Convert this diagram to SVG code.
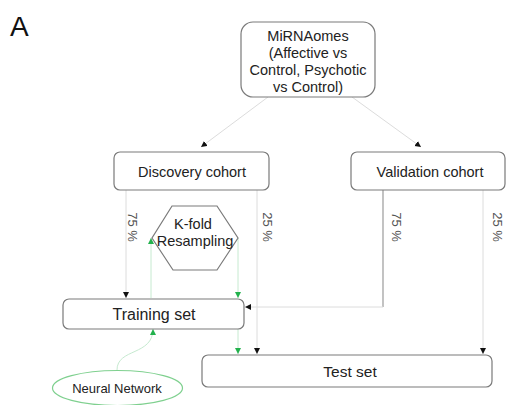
<svg xmlns="http://www.w3.org/2000/svg" width="506" height="405" viewBox="0 0 506 405">
<style>
.box{fill:#fff;stroke:#7a7a7a;stroke-width:1.2}
.t{font-family:"Liberation Sans",Arial,sans-serif;font-size:14.5px;fill:#222;text-anchor:middle}
.lbl{font-family:"Liberation Sans",Arial,sans-serif;font-size:13px;fill:#555;text-anchor:middle;dominant-baseline:central}
.ln{fill:none;stroke:#dcdcdc;stroke-width:1}
.dk{fill:none;stroke:#9a9a9a;stroke-width:1.2}
.gr{fill:none;stroke:#c6ead0;stroke-width:1}
</style>
<defs>
<marker id="ab" markerUnits="userSpaceOnUse" markerWidth="7" markerHeight="7" refX="6" refY="3" orient="auto"><path d="M0,0 L6,3 L0,6 z" fill="#111"/></marker>
<marker id="ag" markerUnits="userSpaceOnUse" markerWidth="7" markerHeight="7" refX="6" refY="3" orient="auto"><path d="M0,0 L6,3 L0,6 z" fill="#22b14c"/></marker>
</defs>
<text x="10" y="36" font-family="Liberation Sans,Arial,sans-serif" font-size="28" fill="#111">A</text>
<g id="connectors">
<path class="ln" d="M268,97 L201,147" marker-end="url(#ab)"/>
<path class="ln" d="M352,97 L421,147" marker-end="url(#ab)"/>
<path class="ln" d="M126,190 L126,298" marker-end="url(#ab)"/>
<path class="ln" d="M257,190 L257,354" marker-end="url(#ab)"/>
<path class="dk" d="M383,190 L383,307"/>
<path class="ln" d="M383,307 L245,307" marker-end="url(#ab)"/>
<path class="ln" d="M483,190 L483,354" marker-end="url(#ab)"/>
<path class="gr" d="M151,298 L151,238" marker-end="url(#ag)"/>
<path class="gr" d="M238,238 L238,298" marker-end="url(#ag)"/>
<path class="gr" d="M238,329 L238,354" marker-end="url(#ag)"/>
<path class="gr" d="M117,370 C117,348 153,356 153,329" marker-end="url(#ag)"/>
<text class="lbl" transform="translate(132,227) rotate(90)">75 %</text>
<text class="lbl" transform="translate(267,227) rotate(90)">25 %</text>
<text class="lbl" transform="translate(396,227) rotate(90)">75 %</text>
<text class="lbl" transform="translate(497,227) rotate(90)">25 %</text>
</g>
<g id="mirnaomes">
<rect class="box" x="241" y="22" width="134" height="75" rx="12"/>
<text class="t" x="308" y="41">MiRNAomes</text>
<text class="t" x="308" y="58">(Affective vs</text>
<text class="t" x="308" y="75">Control, Psychotic</text>
<text class="t" x="308" y="92">vs Control)</text>
</g>
<g id="discovery">
<rect class="box" x="114" y="152" width="155" height="38" rx="6"/>
<text class="t" x="192" y="177">Discovery cohort</text>
</g>
<g id="validation">
<rect class="box" x="351" y="152" width="154" height="38" rx="6"/>
<text class="t" x="430" y="177">Validation cohort</text>
</g>
<g id="kfold">
<polygon class="box" points="172,206 217,206 238,238 217,270 173,270 152,238"/>
<text class="t" x="193" y="229">K-fold</text>
<text class="t" x="195" y="246">Resampling</text>
</g>
<g id="training">
<rect class="box" x="63" y="299" width="181" height="30" rx="6"/>
<text class="t" x="154" y="320" style="font-size:16px">Training set</text>
</g>
<g id="test">
<rect class="box" x="202" y="355" width="290" height="32" rx="6"/>
<text class="t" x="350" y="377" style="font-size:15.5px">Test set</text>
</g>
<g id="neural">
<ellipse cx="117.5" cy="388" rx="65" ry="17.5" fill="#fff" stroke="#7fd08f" stroke-width="1.2"/>
<text class="t" x="117" y="393" style="font-size:13px">Neural Network</text>
</g>
</svg>
